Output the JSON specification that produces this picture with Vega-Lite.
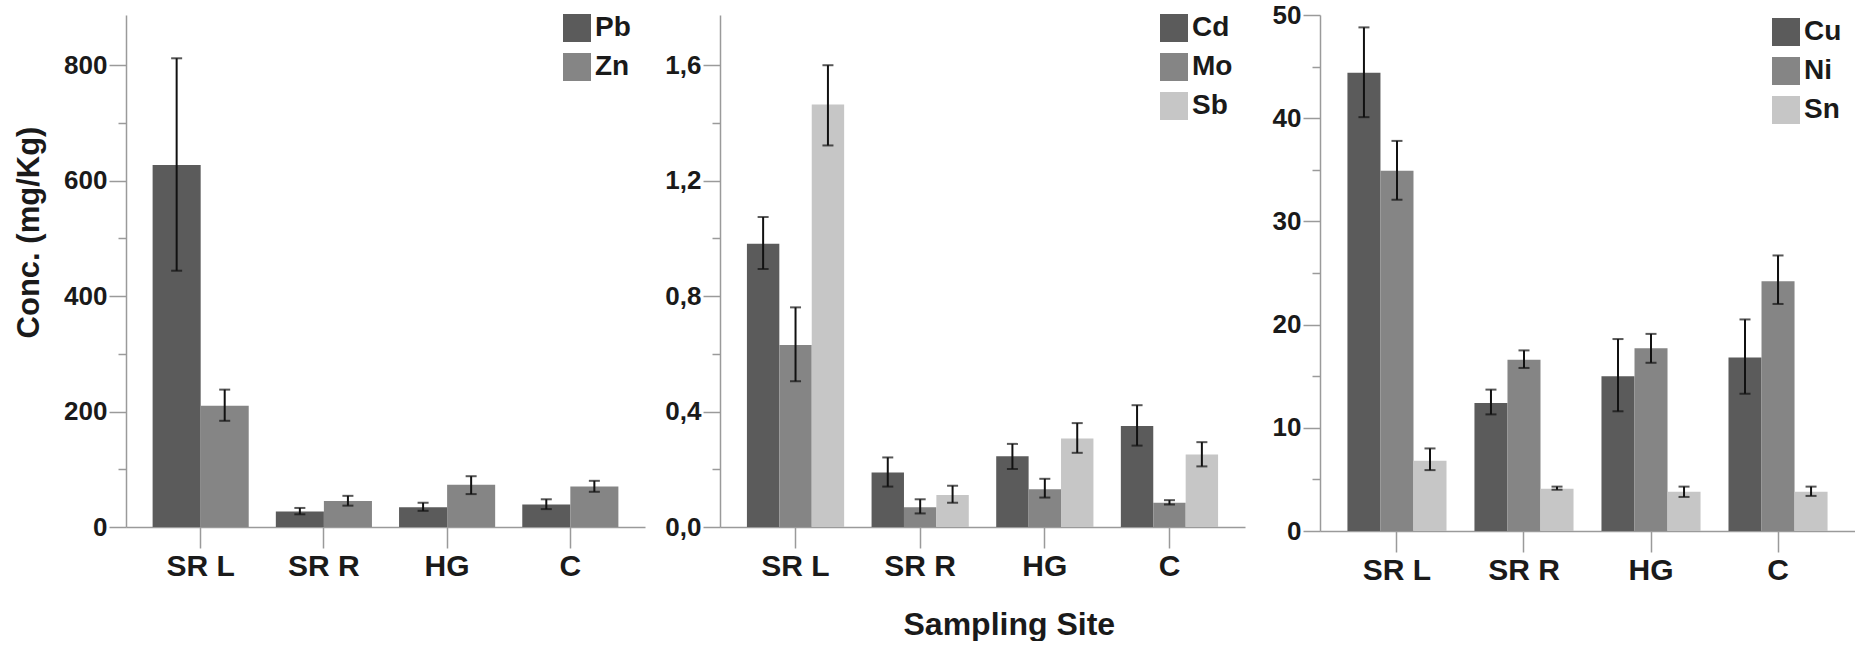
{
  "$schema": "https://vega.github.io/schema/vega-lite/v6.json",
  "padding": {"left": 13, "top": 2, "right": 0, "bottom": 0},
  "background": "white",
  "title": {"text": "Sampling Site", "orient": "bottom", "anchor": "middle", "fontSize": 32, "font": "Liberation Sans", "fontWeight": "bold", "color": "#1a1a1a", "offset": 25, "dx": 75},
  "bounds": "flush",
  "spacing": 75,
  "config": {
    "view": {"stroke": null},
    "font": "Liberation Sans",
    "axis": {"labelFont": "Liberation Sans", "labelFontWeight": "bold", "labelColor": "#1a1a1a", "domainColor": "#9a9a9a", "tickColor": "#9a9a9a", "domainWidth": 1.5, "tickWidth": 1.5, "grid": false, "titleFont": "Liberation Sans", "titleFontWeight": "bold", "titleColor": "#1a1a1a"},
    "legend": {"labelFont": "Liberation Sans", "labelFontWeight": "bold", "labelFontSize": 28, "labelColor": "#1a1a1a", "symbolType": "square", "symbolSize": 784, "symbolStrokeWidth": 0, "rowPadding": 11, "labelOffset": 4, "padding": 0, "title": null}
  },
  "datasets": {
    "p1": [
      {"site": "SR L", "el": "Pb", "v": 627, "lo": 444, "hi": 812},
      {"site": "SR L", "el": "Zn", "v": 210, "lo": 184, "hi": 238},
      {"site": "SR R", "el": "Pb", "v": 27, "lo": 22, "hi": 33},
      {"site": "SR R", "el": "Zn", "v": 45, "lo": 37, "hi": 54},
      {"site": "HG", "el": "Pb", "v": 34, "lo": 28, "hi": 42},
      {"site": "HG", "el": "Zn", "v": 73, "lo": 57, "hi": 88},
      {"site": "C", "el": "Pb", "v": 39, "lo": 31, "hi": 48},
      {"site": "C", "el": "Zn", "v": 70, "lo": 61, "hi": 80}
    ],
    "p2": [
      {"site": "SR L", "el": "Cd", "v": 0.981, "lo": 0.894, "hi": 1.074},
      {"site": "SR L", "el": "Mo", "v": 0.631, "lo": 0.505, "hi": 0.761},
      {"site": "SR L", "el": "Sb", "v": 1.464, "lo": 1.322, "hi": 1.6},
      {"site": "SR R", "el": "Cd", "v": 0.189, "lo": 0.14, "hi": 0.241},
      {"site": "SR R", "el": "Mo", "v": 0.068, "lo": 0.047, "hi": 0.096},
      {"site": "SR R", "el": "Sb", "v": 0.111, "lo": 0.084, "hi": 0.143},
      {"site": "HG", "el": "Cd", "v": 0.245, "lo": 0.201, "hi": 0.288},
      {"site": "HG", "el": "Mo", "v": 0.131, "lo": 0.102, "hi": 0.167},
      {"site": "HG", "el": "Sb", "v": 0.307, "lo": 0.257, "hi": 0.36},
      {"site": "C", "el": "Cd", "v": 0.35, "lo": 0.282, "hi": 0.422},
      {"site": "C", "el": "Mo", "v": 0.084, "lo": 0.078, "hi": 0.093},
      {"site": "C", "el": "Sb", "v": 0.251, "lo": 0.21, "hi": 0.294}
    ],
    "p3": [
      {"site": "SR L", "el": "Cu", "v": 44.4, "lo": 40.1, "hi": 48.8},
      {"site": "SR L", "el": "Ni", "v": 34.9, "lo": 32.1, "hi": 37.8},
      {"site": "SR L", "el": "Sn", "v": 6.8, "lo": 5.9, "hi": 8.0},
      {"site": "SR R", "el": "Cu", "v": 12.4, "lo": 11.3, "hi": 13.7},
      {"site": "SR R", "el": "Ni", "v": 16.6, "lo": 15.8, "hi": 17.5},
      {"site": "SR R", "el": "Sn", "v": 4.1, "lo": 4.0, "hi": 4.3},
      {"site": "HG", "el": "Cu", "v": 15.0, "lo": 11.6, "hi": 18.6},
      {"site": "HG", "el": "Ni", "v": 17.7, "lo": 16.3, "hi": 19.1},
      {"site": "HG", "el": "Sn", "v": 3.8, "lo": 3.3, "hi": 4.3},
      {"site": "C", "el": "Cu", "v": 16.8, "lo": 13.3, "hi": 20.5},
      {"site": "C", "el": "Ni", "v": 24.2, "lo": 22.0, "hi": 26.7},
      {"site": "C", "el": "Sn", "v": 3.8, "lo": 3.4, "hi": 4.3}
    ]
  },
  "resolve": {"scale": {"x": "independent", "y": "independent", "color": "independent", "xOffset": "independent"}, "legend": {"color": "independent"}},
  "hconcat": [
    {
      "width": 519, "height": 512,
      "data": {"name": "p1"},
      "encoding": {
        "x": {"field": "site", "type": "nominal", "sort": ["SR L", "SR R", "HG", "C"], "scale": {"paddingInner": 0.22, "paddingOuter": 0.216}, "axis": {"title": null, "labelAngle": 0, "labelFontSize": 30, "tickSize": 21, "labelPadding": 3}},
        "xOffset": {"field": "el", "type": "nominal", "sort": ["Pb", "Zn"], "scale": {"paddingInner": 0, "paddingOuter": 0}}
      },
      "layer": [
        {"mark": {"type": "bar"}, "encoding": {
          "y": {"field": "v", "type": "quantitative", "title": "Conc. (mg/Kg)", "scale": {"domain": [0, 887], "nice": false}, "axis": {"title": "Conc. (mg/Kg)", "titleFontSize": 31, "titlePadding": 18, "titleY": 217, "values": [0, 100, 200, 300, 400, 500, 600, 700, 800], "labelExpr": "datum.value % 200 === 0 ? datum.label : ''", "labelFontSize": 26, "labelPadding": 2, "tickSize": {"condition": {"test": "datum.value % 200 !== 0", "value": 8}, "value": 17}}},
          "color": {"field": "el", "type": "nominal", "scale": {"domain": ["Pb", "Zn"], "range": ["#5b5b5b", "#858585"]}, "legend": {"orient": "none", "legendX": 437, "legendY": -1}}
        }},
        {"mark": {"type": "rule", "color": "#111111", "strokeWidth": 2}, "encoding": {"y": {"field": "lo", "type": "quantitative", "title": "Conc. (mg/Kg)"}, "y2": {"field": "hi"}}},
        {"mark": {"type": "tick", "color": "#111111", "thickness": 2, "size": 11}, "encoding": {"y": {"field": "lo", "type": "quantitative", "title": "Conc. (mg/Kg)"}}},
        {"mark": {"type": "tick", "color": "#111111", "thickness": 2, "size": 11}, "encoding": {"y": {"field": "hi", "type": "quantitative", "title": "Conc. (mg/Kg)"}}}
      ]
    },
    {
      "width": 525, "height": 512,
      "data": {"name": "p2"},
      "encoding": {
        "x": {"field": "site", "type": "nominal", "sort": ["SR L", "SR R", "HG", "C"], "scale": {"paddingInner": 0.22, "paddingOuter": 0.216}, "axis": {"title": null, "labelAngle": 0, "labelFontSize": 30, "tickSize": 21, "labelPadding": 3}},
        "xOffset": {"field": "el", "type": "nominal", "sort": ["Cd", "Mo", "Sb"], "scale": {"paddingInner": 0, "paddingOuter": 0}}
      },
      "layer": [
        {"mark": {"type": "bar"}, "encoding": {
          "y": {"field": "v", "type": "quantitative", "title": null, "scale": {"domain": [0, 1.774], "nice": false}, "axis": {"title": null, "values": [0, 0.2, 0.4, 0.6, 0.8, 1.0, 1.2, 1.4, 1.6], "labelExpr": "round(datum.value * 10) % 4 === 0 ? replace(format(datum.value, '.1f'), '.', ',') : ''", "labelFontSize": 26, "labelPadding": 2, "tickSize": {"condition": {"test": "round(datum.value * 10) % 4 !== 0", "value": 8}, "value": 17}}},
          "color": {"field": "el", "type": "nominal", "scale": {"domain": ["Cd", "Mo", "Sb"], "range": ["#5b5b5b", "#858585", "#c6c6c6"]}, "legend": {"orient": "none", "legendX": 440, "legendY": -1}}
        }},
        {"mark": {"type": "rule", "color": "#111111", "strokeWidth": 2}, "encoding": {"y": {"field": "lo", "type": "quantitative", "title": null}, "y2": {"field": "hi"}}},
        {"mark": {"type": "tick", "color": "#111111", "thickness": 2, "size": 11}, "encoding": {"y": {"field": "lo", "type": "quantitative", "title": null}}},
        {"mark": {"type": "tick", "color": "#111111", "thickness": 2, "size": 11}, "encoding": {"y": {"field": "hi", "type": "quantitative", "title": null}}}
      ]
    },
    {
      "width": 535, "height": 516,
      "data": {"name": "p3"},
      "encoding": {
        "x": {"field": "site", "type": "nominal", "sort": ["SR L", "SR R", "HG", "C"], "scale": {"paddingInner": 0.22, "paddingOuter": 0.216}, "axis": {"title": null, "labelAngle": 0, "labelFontSize": 30, "tickSize": 21, "labelPadding": 3}},
        "xOffset": {"field": "el", "type": "nominal", "sort": ["Cu", "Ni", "Sn"], "scale": {"paddingInner": 0, "paddingOuter": 0}}
      },
      "layer": [
        {"mark": {"type": "bar"}, "encoding": {
          "y": {"field": "v", "type": "quantitative", "title": null, "scale": {"domain": [0, 50], "nice": false}, "axis": {"title": null, "values": [0, 5, 10, 15, 20, 25, 30, 35, 40, 45, 50], "labelExpr": "datum.value % 10 === 0 ? datum.label : ''", "labelFontSize": 26, "labelPadding": 2, "tickSize": {"condition": {"test": "datum.value % 10 !== 0", "value": 8}, "value": 17}}},
          "color": {"field": "el", "type": "nominal", "scale": {"domain": ["Cu", "Ni", "Sn"], "range": ["#5b5b5b", "#858585", "#c6c6c6"]}, "legend": {"orient": "none", "legendX": 452, "legendY": 3}}
        }},
        {"mark": {"type": "rule", "color": "#111111", "strokeWidth": 2}, "encoding": {"y": {"field": "lo", "type": "quantitative", "title": null}, "y2": {"field": "hi"}}},
        {"mark": {"type": "tick", "color": "#111111", "thickness": 2, "size": 11}, "encoding": {"y": {"field": "lo", "type": "quantitative", "title": null}}},
        {"mark": {"type": "tick", "color": "#111111", "thickness": 2, "size": 11}, "encoding": {"y": {"field": "hi", "type": "quantitative", "title": null}}}
      ]
    }
  ]
}
